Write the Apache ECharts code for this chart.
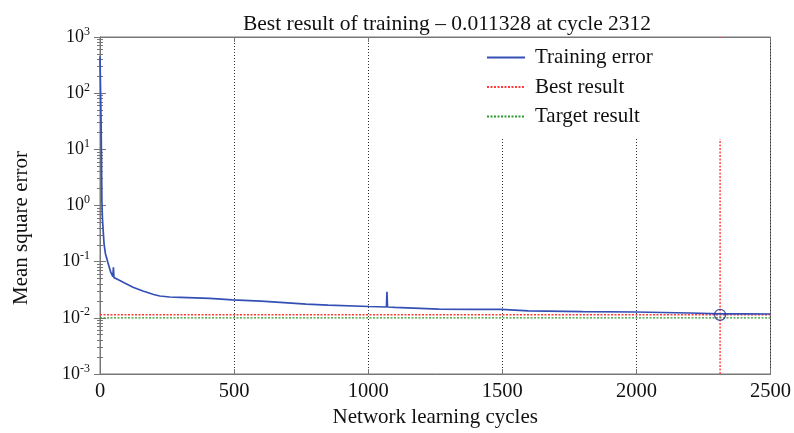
<!DOCTYPE html>
<html><head><meta charset="utf-8">
<script src="https://cdn.jsdelivr.net/npm/echarts@6/dist/echarts.min.js"></script>
<style>html,body{margin:0;padding:0;background:#fff}#c{width:794px;height:433px}</style>
</head><body><div id="c"></div>
<script>
const cycles = [0, 2, 4, 5, 6, 7, 9, 12, 15, 20, 30, 40, 48, 50, 52, 63, 90, 123, 160, 200, 223, 260, 300, 409, 494, 600, 700, 769, 850, 1003, 1068, 1070, 1072, 1100, 1263, 1400, 1497, 1597, 1800, 1998, 2200, 2312, 2400, 2500];
const trainingError = [450, 120, 30, 12, 4, 1.2, 0.6, 0.35, 0.21, 0.14, 0.095, 0.065, 0.054, 0.079, 0.052, 0.049, 0.042, 0.035, 0.03, 0.026, 0.0245, 0.0235, 0.0232, 0.0222, 0.0208, 0.0198, 0.0185, 0.0176, 0.0168, 0.0159, 0.0156, 0.029, 0.0156, 0.0153, 0.0143, 0.0142, 0.0142, 0.0133, 0.0129, 0.0127, 0.0122, 0.0118, 0.0118, 0.0117];
const bestCycle = 2312;
const bestValue = 0.011328;
const targetValue = 0.01;
const xRange = [0, 2500];
const xTicks = [0, 500, 1000, 1500, 2000, 2500];
const yRange = [0.001, 1000];

const serif = 'Liberation Serif';
const chart = echarts.init(document.getElementById('c'));
const yLabel = v => {
  const e = Math.round(Math.log10(v));
  return '{b|10}{s|' + e + '}';
};
const rich = {
  b: {fontFamily: serif, fontSize: 18, color: '#111'},
  s: {fontFamily: serif, fontSize: 12, color: '#111', padding: [0, 0, 11, 0]}
};
const red = '#ff3b3b', green = '#2f9a2f';
chart.setOption({
  animation: false,
  title: {
    text: 'Best result of training \u2013 0.011328 at cycle 2312',
    left: 442, top: 8, textAlign: 'center',
    textStyle: {fontFamily: serif, fontSize: 21.5, fontWeight: 'normal', color: '#111'}
  },
  graphic: [{
    type: 'text', x: 21, y: 228, rotation: Math.PI / 2,
    style: {text: 'Mean square error', fontFamily: serif, fontSize: 21, fill: '#111',
      align: 'center', verticalAlign: 'middle'}
  }],
  legend: {
    orient: 'vertical', left: 470, top: 38,
    padding: [9, 114, 12, 16],
    backgroundColor: '#fff',
    itemWidth: 38, itemHeight: 12, itemGap: 8.5,
    itemStyle: {opacity: 0},
    textStyle: {fontFamily: serif, fontSize: 21, color: '#111', padding: [0, 0, 0, 5]},
    data: ['Training error', 'Best result', 'Target result'],
    z: 10
  },
  grid: {left: 100, right: 21, top: 37, bottom: 59, show: true, borderColor: '#777', borderWidth: 1},
  xAxis: [{
    type: 'value', min: xRange[0], max: xRange[1], interval: 500,
    name: 'Network learning cycles', nameLocation: 'middle', nameGap: 33,
    nameTextStyle: {fontFamily: serif, fontSize: 21, color: '#111'},
    axisLine: {lineStyle: {color: '#777'}},
    axisTick: {inside: true, length: 5, lineStyle: {color: '#777'}},
    axisLabel: {fontFamily: serif, fontSize: 20.5, color: '#111', margin: 7,
      formatter: v => xTicks.includes(v) ? String(v) : ''},
    splitLine: {show: true, lineStyle: {color: '#333', type: [1, 2], width: 1}}
  }, {
    type: 'value', position: 'top', min: xRange[0], max: xRange[1], interval: 500,
    axisLine: {show: true, lineStyle: {color: '#777'}},
    axisTick: {inside: true, length: 5, lineStyle: {color: '#777'}},
    axisLabel: {show: false}, splitLine: {show: false}
  }],
  yAxis: [{
    type: 'log', logBase: 10, min: yRange[0], max: yRange[1],
    axisLine: {show: true, lineStyle: {color: '#777'}},
    axisTick: {inside: true, length: 6, lineStyle: {color: '#777'}},
    minorTick: {show: true, splitNumber: 9, length: 3, lineStyle: {color: '#777'}},
    axisLabel: {formatter: yLabel, rich: rich, margin: 10},
    splitLine: {show: false}
  }, {
    type: 'log', logBase: 10, min: yRange[0], max: yRange[1], position: 'right',
    axisLine: {show: true, lineStyle: {color: '#777'}},
    axisTick: {inside: true, length: 6, lineStyle: {color: '#777'}},
    minorTick: {show: true, splitNumber: 9, length: 3, lineStyle: {color: '#777'}},
    axisLabel: {show: false}, splitLine: {show: false}
  }],
  series: [{
    name: 'Training error', type: 'line', symbol: 'none',
    lineStyle: {color: '#3450b5', width: 1.7}, itemStyle: {color: '#3450b5'},
    data: cycles.map((c, i) => [c, trainingError[i]]), z: 3
  }, {
    name: 'Best result', type: 'line', symbol: 'none',
    lineStyle: {color: red, width: 1.4, type: [2, 1.5]}, itemStyle: {color: red},
    data: [[xRange[0], bestValue], [xRange[1], bestValue]], z: 2
  }, {
    name: 'Best result', type: 'line', symbol: 'none',
    lineStyle: {color: red, width: 1.4, type: [2, 1.5]}, itemStyle: {color: red},
    data: [[bestCycle, yRange[0]], [bestCycle, yRange[1]]], z: 2
  }, {
    name: 'Target result', type: 'line', symbol: 'none',
    lineStyle: {color: green, width: 1.4, type: [2, 1.5]}, itemStyle: {color: green},
    data: [[xRange[0], targetValue], [xRange[1], targetValue]], z: 2
  }, {
    name: 'best point', type: 'scatter', symbol: 'circle', symbolSize: 11,
    itemStyle: {color: 'rgba(0,0,0,0)', borderColor: '#1f2a8a', borderWidth: 1.3},
    data: [[bestCycle, bestValue]], z: 4
  }]
});
</script></body></html>
